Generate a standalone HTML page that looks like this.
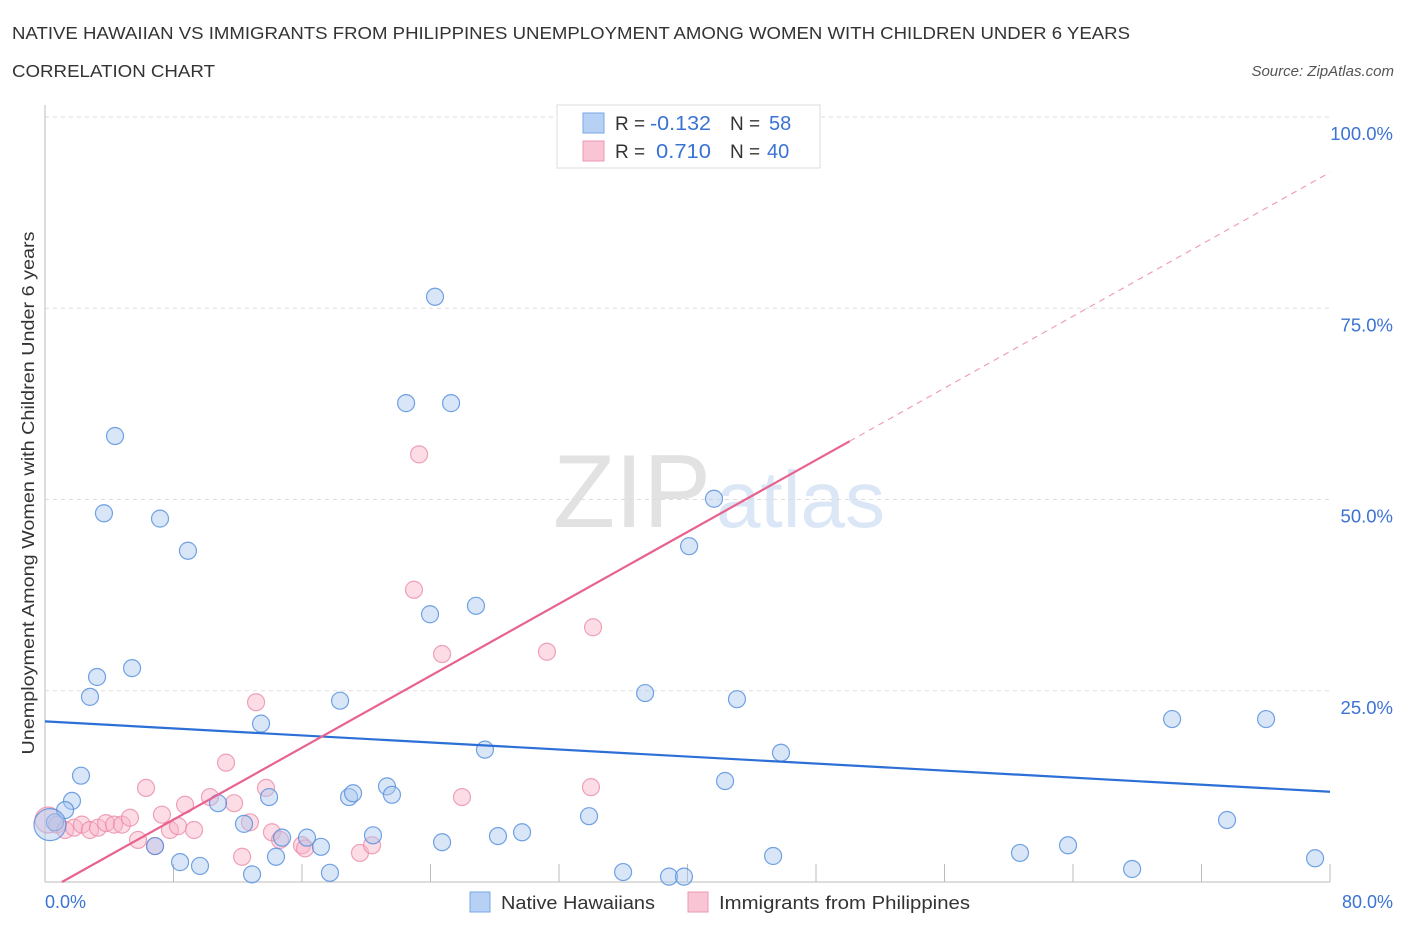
<!DOCTYPE html>
<html><head><meta charset="utf-8"><style>
body{margin:0;background:#fff;font-family:"Liberation Sans",sans-serif;}
svg text{font-family:"Liberation Sans",sans-serif;}
</style></head><body>
<svg id="chart" width="1406" height="930" xmlns="http://www.w3.org/2000/svg">
<text x="12" y="39" font-size="17.5" fill="#333" textLength="1118" lengthAdjust="spacingAndGlyphs">NATIVE HAWAIIAN VS IMMIGRANTS FROM PHILIPPINES UNEMPLOYMENT AMONG WOMEN WITH CHILDREN UNDER 6 YEARS</text>
<text x="12" y="77" font-size="17.5" fill="#333" textLength="203" lengthAdjust="spacingAndGlyphs">CORRELATION CHART</text>
<text x="1394" y="76" font-size="15" fill="#555" font-style="italic" text-anchor="end">Source: ZipAtlas.com</text>
<g>
<text x="553" y="527" font-size="104" fill="#e2e2e2" font-family="Liberation Serif,serif" textLength="158" lengthAdjust="spacingAndGlyphs">ZIP</text>
<text x="716" y="527" font-size="80" fill="#dbe7f6" textLength="169" lengthAdjust="spacingAndGlyphs">atlas</text>
</g>
<g id="grid"></g><g id="marks"></g>
<text transform="translate(34,493) rotate(-90)" font-size="17.5" fill="#333" text-anchor="middle" textLength="523" lengthAdjust="spacingAndGlyphs">Unemployment Among Women with Children Under 6 years</text>
<text x="45" y="908" font-size="18" fill="#3b73d4">0.0%</text>
<text x="1393" y="908" font-size="18" fill="#3b73d4" text-anchor="end">80.0%</text>
<g>
<rect x="557" y="105" width="263" height="63" fill="#fff" stroke="#ddd"/>
<rect x="583" y="113" width="21" height="20" fill="#b7d1f5" stroke="#7aa6e6"/>
<rect x="583" y="141" width="21" height="20" fill="#f9c4d4" stroke="#eb9ab2"/>
<text x="615" y="130" font-size="19" fill="#333">R = </text>
<text x="650" y="130" font-size="20" fill="#3b73d4" textLength="61" lengthAdjust="spacingAndGlyphs">-0.132</text>
<text x="730" y="130" font-size="19" fill="#333">N = </text>
<text x="769" y="130" font-size="20" fill="#3b73d4">58</text>
<text x="615" y="158" font-size="19" fill="#333">R = </text>
<text x="656" y="158" font-size="20" fill="#3b73d4" textLength="55" lengthAdjust="spacingAndGlyphs">0.710</text>
<text x="730" y="158" font-size="19" fill="#333">N = </text>
<text x="767" y="158" font-size="20" fill="#3b73d4">40</text>
</g>
<g>
<rect x="470" y="892" width="20" height="20" fill="#b7d1f5" stroke="#7aa6e6"/>
<text x="501" y="909" font-size="18.5" fill="#333" textLength="154" lengthAdjust="spacingAndGlyphs">Native Hawaiians</text>
<rect x="688" y="892" width="20" height="20" fill="#f9c4d4" stroke="#eb9ab2"/>
<text x="719" y="909" font-size="18.5" fill="#333" textLength="251" lengthAdjust="spacingAndGlyphs">Immigrants from Philippines</text>
</g>
</svg>
<script>
const yTicks=[25,50,75,100];
const yTickLabels=["25.0%","50.0%","75.0%","100.0%"];
const xTicks=[0,8,16,24,32,40,48,56,64,72,80];
const blueX=[4.36,3.67,7.16,8.90,5.42,3.24,2.80,2.24,1.68,1.25,0.62,0.31,6.85,8.41,9.65,10.77,12.39,12.89,13.45,13.95,14.38,14.76,16.31,17.18,17.74,18.37,18.93,19.18,20.42,21.29,21.60,22.48,23.97,24.28,24.72,25.28,26.83,27.39,28.20,29.70,33.87,35.99,37.36,38.85,39.78,40.10,41.65,42.34,43.08,45.33,45.82,60.70,63.69,67.68,70.17,73.59,76.02,79.07];
const blueY=[58.3,48.2,47.5,43.3,27.96,26.8,24.2,13.9,10.6,9.4,7.8,7.5,4.7,2.6,2.1,10.3,7.6,1.0,20.7,11.1,3.3,5.8,5.8,4.6,1.2,23.7,11.1,11.6,6.1,12.5,11.4,62.6,35.0,76.5,5.2,62.6,36.1,17.3,6.0,6.5,8.6,1.3,24.7,0.7,0.7,43.9,50.1,13.2,23.9,3.4,16.9,3.8,4.8,1.7,21.3,8.1,21.3,3.1];
const pinkX=[0.19,0.75,1.25,1.81,2.30,2.80,3.30,3.80,4.30,4.79,5.29,5.79,6.29,6.85,7.28,7.78,8.28,8.72,9.28,10.27,11.27,11.77,12.27,12.76,13.14,13.76,14.13,14.63,16.00,16.19,19.61,20.36,22.97,23.29,24.72,25.96,31.25,34.12,33.99,47.63];
const pinkY=[8.1,7.5,6.8,7.1,7.5,6.8,7.1,7.7,7.5,7.5,8.4,5.5,12.3,4.7,8.8,6.8,7.3,10.1,6.8,11.1,15.6,10.3,3.3,7.8,23.5,12.3,6.5,5.5,4.8,4.4,3.8,4.8,38.2,55.9,29.8,11.1,30.1,33.3,12.4,100.0];
const blueTrend=[21.0,11.8];   // y at x=0 and x=80
const pinkTrend=[-1.24,1.175]; // intercept, slope
const NS="http://www.w3.org/2000/svg";
const X0=45,X1=1330,Y0=882,Y1=117;
const sx=v=>X0+v/80*(X1-X0);
const sy=v=>Y0-v/100*(Y0-Y1);
function mk(tag,attrs,parent){const e=document.createElementNS(NS,tag);for(const k in attrs)e.setAttribute(k,attrs[k]);parent.appendChild(e);return e;}
const grid=document.getElementById('grid'),marks=document.getElementById('marks');
yTicks.forEach((t,i)=>{
 const l=mk('line',{x1:X0,x2:X1,y1:sy(t),y2:sy(t),stroke:'#ddd','stroke-dasharray':'4,4'},grid);
 
 
 const tx=mk('text',{x:1393,y:sy(t)+23,'font-size':18.5,fill:'#3b73d4','text-anchor':'end'},grid);
 tx.textContent=yTickLabels[i];
 
 
});
xTicks.forEach(t=>{
 const l=mk('line',{x1:sx(t),x2:sx(t),y1:Y0,y2:Y0-18,stroke:'#bbb'},grid);
 
 
});
const ax=mk('line',{x1:X0,x2:X1,y1:Y0,y2:Y0,stroke:'#bbb'},grid);


const ay=mk('line',{x1:X0,x2:X0,y1:105,y2:Y0,stroke:'#bbb'},grid);


pinkX.forEach((x,i)=>{
 const c=mk('circle',{cx:sx(x),cy:sy(pinkY[i]),r:i===0?13:8.5,fill:'rgba(248,180,200,0.45)',stroke:'rgba(235,140,170,0.8)','stroke-width':1.2},marks);
 
 
});
blueX.forEach((x,i)=>{
 const c=mk('circle',{cx:sx(x),cy:sy(blueY[i]),r:(i===11)?16:8.5,fill:'rgba(170,200,240,0.45)',stroke:'rgba(80,140,220,0.8)','stroke-width':1.2},marks);
 
 
});
const bl=mk('line',{x1:sx(0),y1:sy(blueTrend[0]),x2:sx(80),y2:sy(blueTrend[1]),stroke:'#2c6fd6','stroke-width':2.2},marks);


const px0=-pinkTrend[0]/pinkTrend[1],pxEnd=50.1;
const pl=mk('line',{x1:sx(px0),y1:sy(0),x2:sx(pxEnd),y2:sy(pinkTrend[0]+pinkTrend[1]*pxEnd),stroke:'#e8628f','stroke-width':2.2},marks);


const pd=mk('line',{x1:sx(pxEnd),y1:sy(pinkTrend[0]+pinkTrend[1]*pxEnd),x2:sx(80),y2:sy(pinkTrend[0]+pinkTrend[1]*80),stroke:'#eea0b8','stroke-width':1.2,'stroke-dasharray':'6,5'},marks);


</script>
</body></html>
